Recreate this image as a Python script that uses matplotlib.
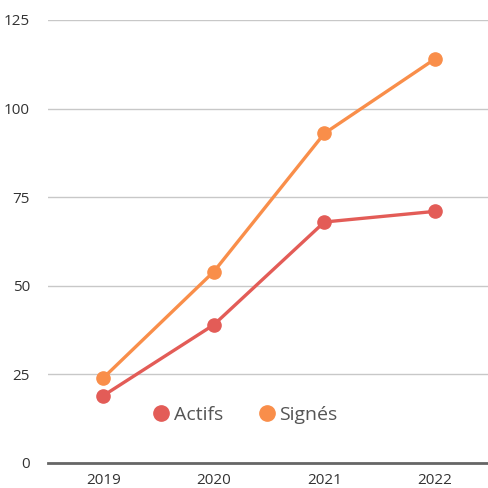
import numpy as np
from matplotlib import pyplot as plt
from matplotlib.lines import Line2D

plt.rcParams['font.family'] = ['Open Sans', 'DejaVu Sans']

# Donnees
annees = ['2019', '2020', '2021', '2022']
actifs = [19, 39, 68, 71]
signes = [24, 54, 93, 114]
yticks = [0, 25, 50, 75, 100, 125]

c_actifs = '#E35C57'
c_signes = '#F98E4A'
txt = '#333333'

fig = plt.figure(figsize=(4.88, 4.88), dpi=100)
ax = fig.add_axes([48/488, 25/488, 440/488, 443/488])

x = np.arange(len(annees))
ax.plot(x, actifs, color=c_actifs, lw=2.4, marker='o', ms=9.5, clip_on=False, zorder=3)
ax.plot(x, signes, color=c_signes, lw=2.4, marker='o', ms=9.5, clip_on=False, zorder=3)

ax.set_xlim(-0.5, 3.48)
ax.set_ylim(0, 125)
ax.set_xticks(x)
ax.set_xticklabels(annees)
ax.set_yticks(yticks)
ax.grid(axis='y', color='#c8c8c8', lw=1)
ax.set_axisbelow(True)
for s in ['top', 'right', 'left']:
    ax.spines[s].set_visible(False)
ax.spines['bottom'].set_color('#666666')
ax.spines['bottom'].set_linewidth(2)
ax.tick_params(length=0, labelsize=11, colors=txt, pad=13)
ax.tick_params(axis='x', pad=7)

handles = [Line2D([], [], ls='', marker='o', ms=11, color=c_actifs),
           Line2D([], [], ls='', marker='o', ms=11, color=c_signes)]
ax.legend(handles, ['Actifs', 'Signés'], ncol=2, frameon=False, loc='center',
          bbox_to_anchor=(0.447, 0.108), fontsize=14, labelcolor='#555555',
          handletextpad=0.15, columnspacing=1.75, handlelength=1.0)

plt.savefig('out.png', dpi=100)
